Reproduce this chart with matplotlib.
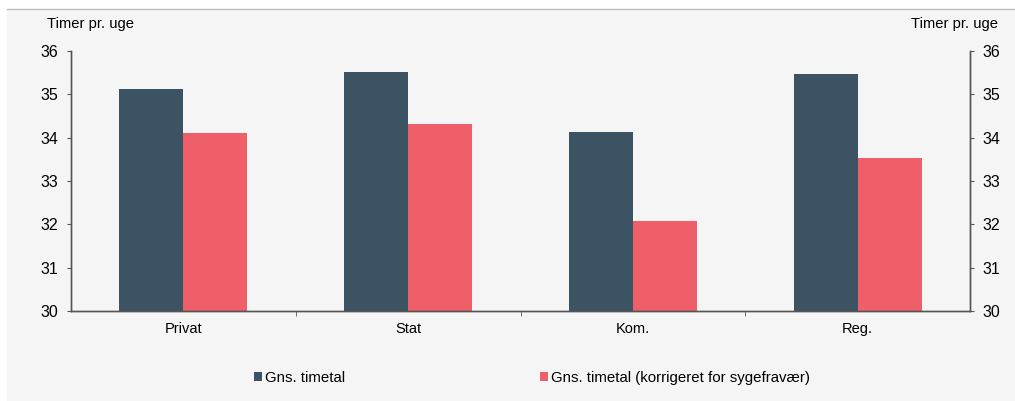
import matplotlib.pyplot as plt
import numpy as np
from matplotlib.patches import Rectangle
from matplotlib.lines import Line2D

plt.rcParams["font.family"] = ["Liberation Sans", "DejaVu Sans"]

categories = ["Privat", "Stat", "Kom.", "Reg."]
timetal = [35.12, 35.52, 34.14, 35.46]
timetal_korr = [34.1, 34.32, 32.08, 33.52]
series_names = ["Gns. timetal", "Gns. timetal (korrigeret for sygefravær)"]

dark = "#3c5364"
red = "#ee5f6a"
bg = "#f5f5f5"

fig = plt.figure(figsize=(10.15, 4.01), dpi=100)
fig.patch.set_facecolor("white")
fig.patches.append(Rectangle((7 / 1015, 0), 1, 1 - 9 / 401, transform=fig.transFigure,
                             facecolor=bg, edgecolor="none", zorder=-10))
fig.lines.append(Line2D([7 / 1015, 1], [1 - 9 / 401] * 2, transform=fig.transFigure,
                        color="#bdbdbd", lw=1.0))

ax = fig.add_axes([71 / 1015, 1 - 311 / 401, 899 / 1015, 260 / 401])
ax.set_facecolor(bg)
x = np.arange(len(categories))
w = 0.285
ax.bar(x - w / 2, np.array(timetal) - 30, w, bottom=30, color=dark, label=series_names[0])
ax.bar(x + w / 2, np.array(timetal_korr) - 30, w, bottom=30, color=red, label=series_names[1])

ax.set_xlim(-0.5, len(categories) - 0.5)
ax.set_ylim(30, 36)
ax.set_yticks(range(30, 37))
ax.set_xticks(x)
ax.set_xticklabels(categories, fontsize=10.5)
ax.set_xticks(np.arange(0.5, len(categories) - 0.5), minor=True)
ax.tick_params(axis="x", which="major", length=0, pad=8)
ax.tick_params(axis="x", which="minor", length=3.5, direction="out", color="#555555")
ax.tick_params(axis="y", labelsize=11.5, length=3, direction="out", color="#555555", pad=6)

ax2 = ax.twinx()
ax2.set_ylim(30, 36)
ax2.set_yticks(range(30, 37))
ax2.tick_params(axis="y", labelsize=11.5, length=3, direction="out", color="#555555", pad=6)

for a in (ax, ax2):
    a.spines["top"].set_visible(False)
    for s in ("left", "right", "bottom"):
        a.spines[s].set_color("#555555")
        a.spines[s].set_linewidth(1.0)

fig.text(47 / 1015, 1 - 24 / 401, "Timer pr. uge", fontsize=10.6, va="center", ha="left")
fig.text(998 / 1015, 1 - 24 / 401, "Timer pr. uge", fontsize=10.6, va="center", ha="right")

handles, labels = ax.get_legend_handles_labels()
fig.legend(handles, labels, loc="center", bbox_to_anchor=(532 / 1015, 1 - 378 / 401), ncol=2,
           frameon=False, fontsize=10.8, handlelength=0.5, handleheight=0.5,
           handletextpad=0.2, columnspacing=13)

fig.savefig("out.png", dpi=100, facecolor=fig.get_facecolor())
